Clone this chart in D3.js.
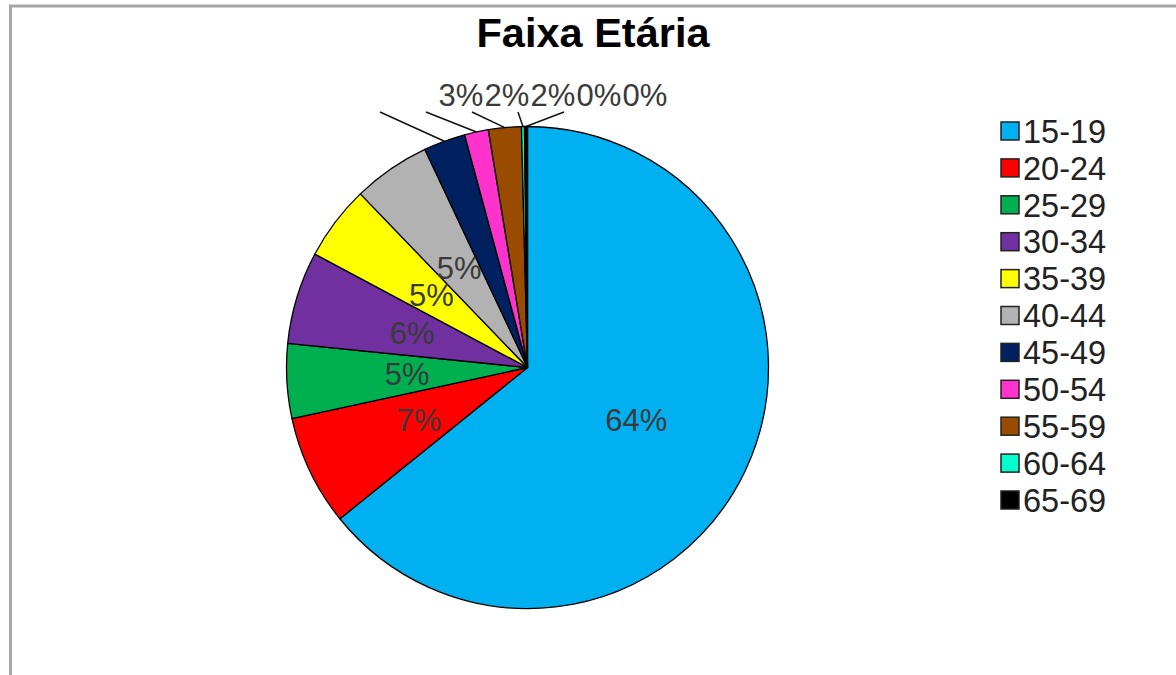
<!DOCTYPE html>
<html>
<head>
<meta charset="utf-8">
<script src="https://cdn.jsdelivr.net/npm/d3@7"></script>
<style>
  html, body { margin: 0; padding: 0; background: #fff; }
  svg { display: block; font-family: "Liberation Sans", Arial, sans-serif; }
</style>
</head>
<body>
<div id="chart"></div>
<script>
// age groups and their share
const categories = ['15-19', '20-24', '25-29', '30-34', '35-39', '40-44', '45-49', '50-54', '55-59', '60-64', '65-69'];
const values = [64.2, 7.4, 5.0, 6.2, 5.0, 5.2, 2.8, 1.6, 2.2, 0.2, 0.2];
const palette = ['#00b0f0', '#ff0000', '#00b050', '#7030a0', '#ffff00', '#b2b2b2', '#002060', '#ff33cc', '#994c00', '#00ffcc', '#000000'];
const title = 'Faixa Etária';

const width = 1176, height = 675;
const cx = 527.5, cy = 367.5, radius = 241;

const svg = d3.select('#chart').append('svg')
  .attr('width', width)
  .attr('height', height);

// chart frame (only top and left edges visible)
svg.append('path')
  .attr('d', `M10.5,${height} V6 H${width}`)
  .attr('fill', 'none')
  .attr('stroke', '#a6a6a6')
  .attr('stroke-width', 3);

svg.append('text')
  .attr('x', 593)
  .attr('y', 47)
  .attr('text-anchor', 'middle')
  .style('font-size', '41.5px')
  .style('font-weight', 'bold')
  .text(title);

const data = categories.map((c, i) => ({ label: c, value: values[i], color: palette[i] }));
const total = d3.sum(values);
const pct = d => Math.round(d.value / total * 100) + '%';

const pie = d3.pie().sort(null).value(d => d.value);
const arcs = pie(data);
const arc = d3.arc().innerRadius(0).outerRadius(radius);
const edge = d3.arc().innerRadius(radius).outerRadius(radius);

const g = svg.append('g').attr('transform', `translate(${cx},${cy})`);

g.selectAll('path.slice')
  .data(arcs)
  .enter().append('path')
  .attr('class', 'slice')
  .attr('d', arc)
  .attr('fill', d => d.data.color)
  .attr('stroke', '#000')
  .attr('stroke-width', 1.3)
  .attr('stroke-linejoin', 'round');

// big slices: label inside at half radius
const inside = arcs.filter(d => d.data.value >= 4);
g.selectAll('text.inner')
  .data(inside)
  .enter().append('text')
  .attr('class', 'inner')
  .attr('transform', d => `translate(${arc.centroid(d)})`)
  .attr('text-anchor', 'middle')
  .attr('dy', '0.36em')
  .attr('fill', '#3a3a3a')
  .style('font-size', '31px')
  .text(pct);

// small slices: labels in a row above, with leader lines
const outside = arcs.filter(d => d.data.value < 4);
const rowX0 = 461, rowStep = 46, rowY = 106, leadY = 112 - cy, leadShift = 81;

g.selectAll('line.leader')
  .data(outside)
  .enter().append('line')
  .attr('class', 'leader')
  .attr('x1', d => edge.centroid(d)[0])
  .attr('y1', d => edge.centroid(d)[1])
  .attr('x2', (d, i) => rowX0 + i * rowStep - leadShift - cx)
  .attr('y2', leadY)
  .attr('stroke', '#111')
  .attr('stroke-width', 1.5);

svg.selectAll('text.outer')
  .data(outside)
  .enter().append('text')
  .attr('class', 'outer')
  .attr('x', (d, i) => rowX0 + i * rowStep)
  .attr('y', rowY)
  .attr('text-anchor', 'middle')
  .attr('fill', '#3a3a3a')
  .style('font-size', '31px')
  .text(pct);

// legend
const legend = svg.selectAll('.legend')
  .data(data)
  .enter().append('g')
  .attr('class', 'legend')
  .attr('transform', (d, i) => 'translate(1000,' + (131 + i * 36.9) + ')');

legend.append('rect')
  .attr('x', 1)
  .attr('y', -9)
  .attr('width', 18)
  .attr('height', 18)
  .attr('fill', d => d.color)
  .attr('stroke', '#222')
  .attr('stroke-width', 1.5);

legend.append('text')
  .attr('x', 23)
  .attr('y', 0)
  .attr('dy', '0.36em')
  .attr('fill', '#222')
  .style('font-size', '32.5px')
  .text(d => d.label);
</script>
</body>
</html>
